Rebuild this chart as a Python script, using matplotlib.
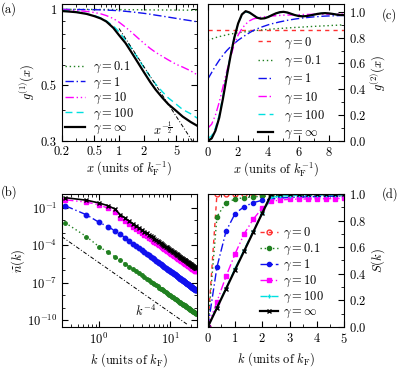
import numpy as np
import matplotlib
matplotlib.use("Agg")
import matplotlib.pyplot as plt
from matplotlib.ticker import FixedLocator, NullFormatter, MultipleLocator

plt.rcParams['font.family'] = 'serif'
plt.rcParams['font.serif'] = ['cmr10']
plt.rcParams['mathtext.fontset'] = 'cm'
plt.rcParams['axes.formatter.use_mathtext'] = True
plt.rcParams['axes.unicode_minus'] = False
plt.rcParams['font.size'] = 9

# ---------------- data ----------------
# (a) one-body correlation g1(x)
gammas_a = ['0.1', '1', '10', '100', r'\infty']
xa = [0.2, 0.25, 0.3, 0.4, 0.5, 0.6, 0.7, 0.85, 1.0, 1.2, 1.4, 1.7, 2.0, 2.4, 2.8, 3.4, 4.0, 5.0, 6.0, 7.5, 9.0]
ga_01 = [1.0, 1.0, 1.0, 1.0, 1.0, 0.999, 0.999, 0.999, 0.998, 0.998, 0.997, 0.997, 0.996, 0.996, 0.995, 0.995, 0.995, 0.994, 0.994, 0.993, 0.993]
ga_1 = [1.0, 1.0, 0.999, 0.998, 0.997, 0.996, 0.994, 0.991, 0.988, 0.983, 0.978, 0.971, 0.965, 0.957, 0.949, 0.94, 0.932, 0.921, 0.912, 0.902, 0.893]
ga_10 = [0.995, 0.993, 0.99, 0.982, 0.972, 0.96, 0.945, 0.92, 0.89, 0.85, 0.815, 0.77, 0.735, 0.70, 0.675, 0.65, 0.63, 0.605, 0.59, 0.57, 0.55]
ga_100 = [0.99, 0.985, 0.978, 0.962, 0.945, 0.925, 0.90, 0.86, 0.815, 0.755, 0.705, 0.64, 0.59, 0.54, 0.505, 0.47, 0.445, 0.42, 0.40, 0.385, 0.37]
ga_inf = [0.985, 0.98, 0.975, 0.96, 0.94, 0.92, 0.895, 0.845, 0.79, 0.735, 0.68, 0.615, 0.565, 0.515, 0.48, 0.445, 0.42, 0.395, 0.375, 0.357, 0.345]
xa_ref = [1.0, 7.85]
ya_ref = [0.84, 0.30]

# (c) pair correlation g2(x)
gammas_c = ['0', '0.1', '1', '10', '100', r'\infty']
xc = [0.0, 0.25, 0.5, 0.75, 1.0, 1.25, 1.5, 1.75, 2.0, 2.25, 2.5, 2.75, 3.0, 3.25, 3.5, 3.75, 4.0, 4.25, 4.5,
      4.75, 5.0, 5.25, 5.5, 5.75, 6.0, 6.25, 6.5, 6.75, 7.0, 7.25, 7.5, 7.75, 8.0, 8.25, 8.5, 8.75, 9.0]
gc_0 = [0.86] * 37
gc_01 = [0.78, 0.79, 0.80, 0.808, 0.815, 0.822, 0.828, 0.833, 0.838, 0.842, 0.846, 0.85, 0.853, 0.856, 0.859, 0.862, 0.864,
         0.867, 0.869, 0.871, 0.873, 0.875, 0.877, 0.879, 0.88, 0.882, 0.884, 0.886, 0.887, 0.889, 0.89, 0.892, 0.893, 0.895, 0.896, 0.898, 0.899]
gc_1 = [0.48, 0.53, 0.58, 0.625, 0.665, 0.70, 0.73, 0.755, 0.78, 0.80, 0.82, 0.838, 0.855, 0.868, 0.88, 0.89, 0.90,
        0.908, 0.915, 0.922, 0.928, 0.934, 0.939, 0.944, 0.948, 0.952, 0.955, 0.958, 0.961, 0.963, 0.965, 0.967, 0.968, 0.969, 0.97, 0.971, 0.972]
gc_10 = [0.10, 0.13, 0.20, 0.30, 0.42, 0.54, 0.65, 0.75, 0.82, 0.87, 0.905, 0.93, 0.945, 0.952, 0.958, 0.962, 0.965,
         0.968, 0.97, 0.972, 0.974, 0.975, 0.976, 0.977, 0.978, 0.979, 0.98, 0.98, 0.981, 0.981, 0.982, 0.982, 0.982, 0.983, 0.983, 0.983, 0.983]
gc_100 = [0.02, 0.04, 0.10, 0.20, 0.35, 0.51, 0.67, 0.80, 0.91, 0.975, 1.0, 0.992, 0.975, 0.957, 0.95, 0.952, 0.962,
          0.975, 0.987, 0.995, 0.998, 0.993, 0.985, 0.976, 0.97, 0.967, 0.968, 0.972, 0.978, 0.984, 0.988, 0.99, 0.988, 0.984, 0.979, 0.976, 0.975]
gc_inf = [0.0, 0.02, 0.08, 0.18, 0.33, 0.50, 0.66, 0.80, 0.91, 0.98, 1.005, 0.995, 0.975, 0.955, 0.947, 0.95, 0.96,
          0.975, 0.988, 0.997, 1.0, 0.995, 0.985, 0.975, 0.968, 0.965, 0.967, 0.972, 0.978, 0.984, 0.988, 0.99, 0.988, 0.984, 0.979, 0.976, 0.975]

# (b) momentum distribution, log10 of n(k) at k = j/3, j = 1..70
kb = [j / 3 for j in range(1, 71)]
log_nb_inf = [-0.18, -0.38, -0.60, -0.82, -1.08, -1.55,
              -1.82, -2.05, -2.25, -2.44, -2.60, -2.75, -2.89, -3.02, -3.14,
              -3.25, -3.36, -3.46, -3.55, -3.64, -3.73, -3.81, -3.88, -3.96, -4.03,
              -4.10, -4.16, -4.23, -4.29, -4.35, -4.40, -4.46, -4.51, -4.56, -4.61,
              -4.66, -4.71, -4.76, -4.80, -4.85, -4.89, -4.93, -4.97, -5.01, -5.05,
              -5.09, -5.13, -5.16, -5.20, -5.23, -5.27, -5.30, -5.33, -5.37, -5.40,
              -5.43, -5.46, -5.49, -5.52, -5.55, -5.58, -5.61, -5.64, -5.66, -5.69,
              -5.72, -5.74, -5.77, -5.79, -5.82]
log_nb_10 = [-0.35, -0.53, -0.75, -1.02, -1.35, -1.80,
             -2.07, -2.30, -2.50, -2.69, -2.85, -3.00, -3.14, -3.27, -3.39,
             -3.50, -3.61, -3.71, -3.80, -3.89, -3.98, -4.06, -4.13, -4.21, -4.28,
             -4.35, -4.41, -4.48, -4.54, -4.60, -4.65, -4.71, -4.76, -4.81, -4.86,
             -4.91, -4.96, -5.01, -5.05, -5.10, -5.14, -5.18, -5.22, -5.26, -5.30,
             -5.34, -5.38, -5.41, -5.45, -5.48, -5.52, -5.55, -5.58, -5.62, -5.65,
             -5.68, -5.71, -5.74, -5.77, -5.80, -5.83, -5.86, -5.89, -5.91, -5.94,
             -5.97, -5.99, -6.02, -6.04, -6.07]
log_nb_1 = [-0.82, -1.55, -2.15, -2.50, -2.82, -3.11,
            -3.39, -3.64, -3.85, -4.05, -4.21, -4.38, -4.52, -4.66, -4.78,
            -4.90, -5.01, -5.12, -5.21, -5.31, -5.40, -5.49, -5.56, -5.65, -5.72,
            -5.79, -5.86, -5.93, -5.99, -6.06, -6.11, -6.17, -6.22, -6.28, -6.33,
            -6.38, -6.43, -6.49, -6.53, -6.58, -6.62, -6.67, -6.71, -6.75, -6.79,
            -6.83, -6.88, -6.91, -6.95, -6.98, -7.02, -7.06, -7.09, -7.13, -7.16,
            -7.19, -7.22, -7.26, -7.29, -7.32, -7.35, -7.38, -7.41, -7.44, -7.47,
            -7.50, -7.52, -7.55, -7.57, -7.60]
log_nb_01 = [-2.18, -3.30, -4.10, -4.55, -4.90, -5.20,
             -5.47, -5.70, -5.90, -6.09, -6.25, -6.40, -6.54, -6.67, -6.79,
             -6.90, -7.01, -7.11, -7.20, -7.29, -7.38, -7.46, -7.53, -7.61, -7.68,
             -7.75, -7.81, -7.88, -7.94, -8.00, -8.05, -8.11, -8.16, -8.21, -8.26,
             -8.31, -8.36, -8.41, -8.45, -8.50, -8.54, -8.58, -8.62, -8.66, -8.70,
             -8.74, -8.78, -8.81, -8.85, -8.88, -8.92, -8.95, -8.98, -9.02, -9.05,
             -9.08, -9.11, -9.14, -9.17, -9.20, -9.23, -9.26, -9.29, -9.31, -9.34,
             -9.37, -9.39, -9.42, -9.44, -9.47]
kb_ref = [0.3, 17.2]
nb_ref = [5.0e-4, 5.0e-11]

# (d) static structure factor S(k)
kd = [j / 3 for j in range(0, 16)]
Sd_0 = [0.0] + [1.0] * 15
Sd_01 = [0.0, 0.83, 0.935, 0.962, 0.973, 0.979, 0.983, 0.986, 0.988, 0.99, 0.991, 0.992, 0.993, 0.994, 0.995, 0.996]
Sd_1 = [0.0, 0.45, 0.72, 0.853, 0.905, 0.935, 0.953, 0.963, 0.97, 0.974, 0.977, 0.979, 0.981, 0.983, 0.984, 0.985]
Sd_10 = [0.0, 0.19, 0.38, 0.55, 0.70, 0.81, 0.895, 0.945, 0.955, 0.96, 0.962, 0.963, 0.964, 0.965, 0.966, 0.967]
Sd_100 = [0.0, 0.15, 0.29, 0.44, 0.58, 0.72, 0.86, 0.975, 0.985, 0.988, 0.99, 0.991, 0.992, 0.993, 0.994, 0.995]
Sd_inf = [0.0, 0.143, 0.286, 0.43, 0.571, 0.714, 0.857, 1.0, 1.0, 1.0, 1.0, 1.0, 1.0, 1.0, 1.0, 1.0]

# ---------------- styles ----------------
col = {'0': '#ff3030', '0.1': '#208020', '1': '#1010ee', '10': '#ff00ff', '100': '#00e0e0', r'\infty': 'black'}
ls = {'0': (0, (3, 3)), '0.1': (0, (1, 2)), '1': (0, (6, 2, 1, 2)), '10': (0, (6, 2, 1, 2, 1, 2)), '100': (0, (5, 3)), r'\infty': '-'}
lw = {'0': 1.0, '0.1': 1.0, '1': 1.0, '10': 1.0, '100': 1.0, r'\infty': 1.6}

fig = plt.figure(figsize=(3.99, 3.71), dpi=100)
axa = fig.add_axes([0.155, 0.620, 0.339, 0.369])
axc = fig.add_axes([0.521, 0.620, 0.341, 0.369])
axb = fig.add_axes([0.155, 0.119, 0.339, 0.358])
axd = fig.add_axes([0.521, 0.119, 0.341, 0.358])

def style(ax):
    ax.tick_params(which='both', direction='in', top=True, right=True, labelsize=9)
    ax.tick_params(which='major', length=4)
    ax.tick_params(which='minor', length=2)

leg_kw = dict(frameon=False, fontsize=9, borderpad=0, borderaxespad=0, loc='upper left')

# (a)
for g, y in zip(gammas_a, [ga_01, ga_1, ga_10, ga_100, ga_inf]):
    axa.plot(xa, y, color=col[g], ls=ls[g], lw=lw[g], label=r'$\gamma = %s$' % g)
axa.plot(xa_ref, ya_ref, color='black', ls=(0, (4, 2, 1, 2)), lw=0.7)
axa.set_xscale('log'); axa.set_yscale('log')
axa.set_xlim(0.2, 9); axa.set_ylim(0.3, 1.05)
axa.xaxis.set_major_locator(FixedLocator([0.2, 0.5, 1, 2, 5]))
axa.set_xticklabels(['0.2', '0.5', '1', '2', '5'])
axa.yaxis.set_major_locator(FixedLocator([0.3, 0.5, 1]))
axa.set_yticklabels(['0.3', '0.5', '1'])
axa.yaxis.set_minor_locator(FixedLocator([0.4, 0.6, 0.7, 0.8, 0.9]))
axa.yaxis.set_minor_formatter(NullFormatter())
axa.xaxis.set_minor_formatter(NullFormatter())
style(axa)
axa.set_xlabel(r'$x\ (\mathrm{units\ of\ }k_\mathrm{F}^{-1})$', fontsize=9, labelpad=1)
axa.set_ylabel(r'$g^{(1)}(x)$', fontsize=9)
axa.yaxis.set_label_coords(-0.185, 0.43)
axa.text(2.6, 0.335, r'$x^{-\frac{1}{2}}$', fontsize=9, ha='left', va='center')
axa.legend(bbox_to_anchor=(0.02, 0.59), handlelength=1.6, handletextpad=0.65,
           labelspacing=0.02, **leg_kw)
fig.text(0.003, 0.995, '(a)', fontsize=9, va='top')

# (c)
for g, y in zip(gammas_c, [gc_0, gc_01, gc_1, gc_10, gc_100, gc_inf]):
    axc.plot(xc, y, color=col[g], ls=ls[g], lw=lw[g], label=r'$\gamma = %s$' % g)
axc.set_xlim(0, 9); axc.set_ylim(0, 1.06)
axc.xaxis.set_major_locator(MultipleLocator(2))
axc.xaxis.set_minor_locator(MultipleLocator(1))
axc.yaxis.set_major_locator(MultipleLocator(0.2))
axc.yaxis.set_minor_locator(MultipleLocator(0.1))
axc.yaxis.tick_right(); axc.yaxis.set_label_position('right')
style(axc)
axc.set_xlabel(r'$x\ (\mathrm{units\ of\ }k_\mathrm{F}^{-1})$', fontsize=9, labelpad=1)
axc.set_ylabel(r'$g^{(2)}(x)$', fontsize=9, labelpad=2)
axc.legend(bbox_to_anchor=(0.37, 0.77), handlelength=1.2, handletextpad=0.85,
           labelspacing=0.245, **leg_kw)
fig.text(0.957, 0.978, '(c)', fontsize=9, va='top')

# (b)
mk = {'0.1': 'o', '1': 'o', '10': 's', r'\infty': 'x'}
msz = {'0.1': 2.5, '1': 3.2, '10': 3.0, r'\infty': 3.5}
for g, ly in zip(['0.1', '1', '10', r'\infty'], [log_nb_01, log_nb_1, log_nb_10, log_nb_inf]):
    axb.plot(kb, 10.0 ** np.array(ly), color=col[g], ls=ls[g], lw=lw[g] if g != r'\infty' else 1.2,
             marker=mk[g], ms=msz[g], mew=1)
axb.plot(kb_ref, nb_ref, color='black', ls=(0, (4, 2, 1, 2)), lw=0.7)
axb.set_xscale('log'); axb.set_yscale('log')
axb.set_xlim(0.3, 24); axb.set_ylim(3e-11, 1.3)
axb.yaxis.set_major_locator(FixedLocator([1e-1, 1e-4, 1e-7, 1e-10]))
axb.yaxis.set_minor_locator(FixedLocator([1e-9, 1e-8, 1e-6, 1e-5, 1e-3, 1e-2]))
axb.yaxis.set_minor_formatter(NullFormatter())
axb.xaxis.set_minor_formatter(NullFormatter())
style(axb)
axb.set_xlabel(r'$k\ (\mathrm{units\ of\ }k_\mathrm{F})$', fontsize=9, labelpad=3)
axb.set_ylabel(r'$\widetilde{n}(k)$', fontsize=9, labelpad=0)
axb.text(3.2, 5e-10, r'$k^{-4}$', fontsize=9, ha='left', va='center')
fig.text(0.003, 0.501, '(b)', fontsize=9, va='top')

# (d)
mkd = {'0': 'o', '0.1': 'o', '1': 'o', '10': 's', '100': '+', r'\infty': 'x'}
for g, y in zip(gammas_c, [Sd_0, Sd_01, Sd_1, Sd_10, Sd_100, Sd_inf]):
    kw = dict(color=col[g], ls=ls[g], lw=lw[g], marker=mkd[g], ms=3, mew=1,
              label=r'$\gamma = %s$' % g)
    if g == '0':
        kw.update(mfc='none', ms=3.5)
    axd.plot(kd, y, **kw)
axd.set_xlim(0, 5); axd.set_ylim(0, 1)
axd.xaxis.set_major_locator(MultipleLocator(1))
axd.xaxis.set_minor_locator(MultipleLocator(0.5))
axd.yaxis.set_major_locator(MultipleLocator(0.2))
axd.yaxis.set_minor_locator(MultipleLocator(0.1))
axd.yaxis.tick_right(); axd.yaxis.set_label_position('right')
style(axd)
axd.set_xlabel(r'$k\ (\mathrm{units\ of\ }k_\mathrm{F})$', fontsize=9, labelpad=3)
axd.set_ylabel(r'$S(k)$', fontsize=9, labelpad=2)
axd.legend(bbox_to_anchor=(0.38, 0.76), handlelength=1.45, handletextpad=0.4,
           labelspacing=0.07, numpoints=1, **leg_kw)
fig.text(0.957, 0.496, '(d)', fontsize=9, va='top')

fig.savefig('out.png', dpi=100)
